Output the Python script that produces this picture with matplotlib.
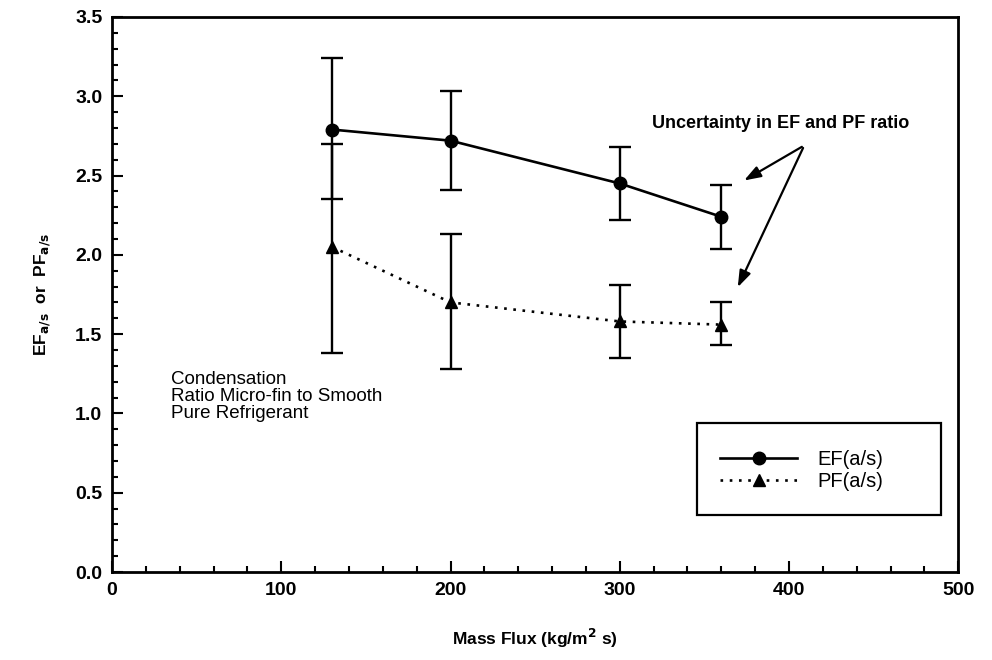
import matplotlib
matplotlib.use("Agg")
import matplotlib.pyplot as plt
import numpy as np
from matplotlib.ticker import MultipleLocator
from matplotlib.patches import Rectangle

mass_flux = [130, 200, 300, 360]
ef_ratio = [2.79, 2.72, 2.45, 2.24]
ef_low = [2.35, 2.41, 2.22, 2.04]
ef_high = [3.24, 3.03, 2.68, 2.44]
pf_ratio = [2.05, 1.70, 1.58, 1.56]
pf_low = [1.38, 1.28, 1.35, 1.43]
pf_high = [2.70, 2.13, 1.81, 1.70]

plt.rcParams['font.family'] = ['Liberation Sans', 'DejaVu Sans']

fig = plt.figure(figsize=(9.92, 6.6), dpi=100)
ax = fig.add_axes([0.113, 0.1333, 0.853, 0.841])

ef = np.array(ef_ratio)
pf = np.array(pf_ratio)
ef_err = [ef - np.array(ef_low), np.array(ef_high) - ef]
pf_err = [pf - np.array(pf_low), np.array(pf_high) - pf]

ax.errorbar(mass_flux, ef_ratio, yerr=ef_err, fmt='none', ecolor='black',
            elinewidth=1.7, capsize=8, capthick=1.7)
ax.errorbar(mass_flux, pf_ratio, yerr=pf_err, fmt='none', ecolor='black',
            elinewidth=1.7, capsize=8, capthick=1.7)
ax.plot(mass_flux, ef_ratio, color='black', lw=1.9, marker='o', ms=9,
        label='EF(a/s)')
ax.plot(mass_flux, pf_ratio, color='black', lw=1.9, ls=(0, (1, 2.5)),
        marker='^', ms=9, label='PF(a/s)')

ax.set_xlim(0, 500)
ax.set_ylim(0, 3.5)
ax.xaxis.set_major_locator(MultipleLocator(100))
ax.xaxis.set_minor_locator(MultipleLocator(20))
ax.yaxis.set_major_locator(MultipleLocator(0.5))
ax.yaxis.set_minor_locator(MultipleLocator(0.1))
ax.yaxis.set_major_formatter(matplotlib.ticker.FormatStrFormatter('%.1f'))
ax.tick_params(which='both', direction='in', top=False, right=False,
               labelsize=14, width=1.5)
ax.tick_params(which='major', length=8, pad=7)
ax.tick_params(which='minor', length=4)
for lab in ax.get_xticklabels() + ax.get_yticklabels():
    lab.set_fontweight('bold')
for s in ax.spines.values():
    s.set_linewidth(2)

ax.set_xlabel('Mass Flux (kg/m$^\\mathbf{2}$ s)', fontsize=12.5,
              fontweight='bold', labelpad=20)
ax.set_ylabel(r'EF$_{\mathbf{a/s}}$  or  PF$_{\mathbf{a/s}}$', fontsize=12.5,
              fontweight='bold', labelpad=16)

ax.text(35, 1.265, 'Condensation\nRatio Micro-fin to Smooth\nPure Refrigerant',
        fontsize=13.5, ha='left', va='top', linespacing=0.98)

ax.text(395, 2.83, 'Uncertainty in EF and PF ratio', fontsize=13,
        fontweight='bold', ha='center', va='center')
ax.annotate('', xy=(372, 2.46), xytext=(409, 2.69),
            arrowprops=dict(arrowstyle='-|>,head_length=1.0,head_width=0.35',
                            color='black', lw=1.6))
ax.annotate('', xy=(369, 1.78), xytext=(409, 2.69),
            arrowprops=dict(arrowstyle='-|>,head_length=1.0,head_width=0.35',
                            color='black', lw=1.6))

ax.add_patch(Rectangle((0.6915, 0.1027), 0.2875, 0.1658, transform=ax.transAxes,
                       fill=True, facecolor='white', edgecolor='black', lw=1.6,
                       zorder=4))
leg = ax.legend(loc='upper left', bbox_to_anchor=(0.7187, 0.219),
                fontsize=14.5, frameon=False,
                handlelength=3.8, borderpad=0, labelspacing=0.15,
                handletextpad=1.0, borderaxespad=0)
leg.set_zorder(5)

fig.savefig('out.png', dpi=100)
